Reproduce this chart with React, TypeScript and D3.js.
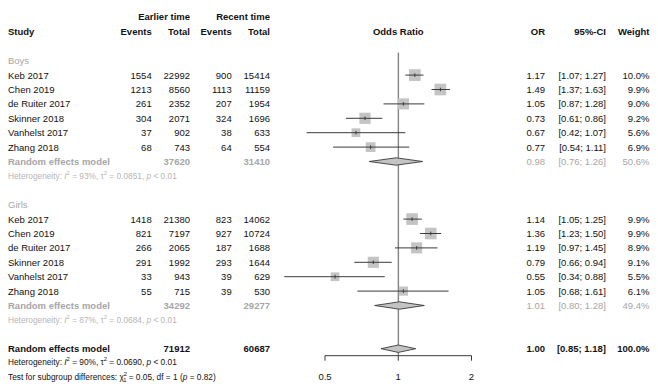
import React from "react";
import * as d3 from "d3";

const studies = ["Keb 2017", "Chen 2019", "de Ruiter 2017", "Skinner 2018", "Vanhelst 2017", "Zhang 2018"];

const boysEarlierEvents = [1554, 1213, 261, 304, 37, 68];
const boysEarlierTotal = [22992, 8560, 2352, 2071, 902, 743];
const boysRecentEvents = [900, 1113, 207, 324, 38, 64];
const boysRecentTotal = [15414, 11159, 1954, 1696, 633, 554];
const boysOR = [1.17, 1.49, 1.05, 0.73, 0.67, 0.77];
const boysLower = [1.07, 1.37, 0.87, 0.61, 0.42, 0.54];
const boysUpper = [1.27, 1.63, 1.28, 0.86, 1.07, 1.11];
const boysWeight = [10.0, 9.9, 9.0, 9.2, 5.6, 6.9];

const girlsEarlierEvents = [1418, 821, 266, 291, 33, 55];
const girlsEarlierTotal = [21380, 7197, 2065, 1992, 943, 715];
const girlsRecentEvents = [823, 927, 187, 293, 39, 39];
const girlsRecentTotal = [14062, 10724, 1688, 1644, 629, 530];
const girlsOR = [1.14, 1.36, 1.19, 0.79, 0.55, 1.05];
const girlsLower = [1.05, 1.23, 0.97, 0.66, 0.34, 0.68];
const girlsUpper = [1.25, 1.5, 1.45, 0.94, 0.88, 1.61];
const girlsWeight = [9.9, 9.9, 8.9, 9.1, 5.5, 6.1];

// subgroup / overall summaries: [OR, lower, upper, weight, earlierTotal, recentTotal]
const boysSummary = [0.98, 0.76, 1.26, 50.6, 37620, 31410];
const girlsSummary = [1.01, 0.8, 1.28, 49.4, 34292, 29277];
const overallSummary = [1.0, 0.85, 1.18, 100.0, 71912, 60687];

const boysHet = ["93%", "0.0851", "< 0.01"];
const girlsHet = ["87%", "0.0684", "< 0.01"];
const overallHet = ["90%", "0.0690", "< 0.01"];
const subgroupTest = ["0.05", "1", "0.82"];

const axisTicks = [0.5, 1, 2];
const axisTickLabels = ["0.5", "1", "2"];

const FONT = "'Liberation Sans', Arial, Helvetica, sans-serif";
const FS = 9.5;
const SMALL = 8.3;
const GREY = "#a6a6a6";
const LGREY = "#b5b5b5";
const BOX = "#c4c4c4";
const LINE = "#3a3a3a";

const rowY = (i: number) => 60.7 + i * 14.4;
const BL = 3.4;

const x = d3.scaleLog().domain([0.5, 2]).range([325, 471.5]);

const colX = { study: 8, ee: 151.7, et: 190, re: 231.7, rt: 270, or: 545, ci: 606, w: 649.5 };

const fmt2 = (v: number) => v.toFixed(2);
const fmtCI = (l: number, u: number) => `[${fmt2(l)}; ${fmt2(u)}]`;
const fmtW = (w: number) => `${w.toFixed(1)}%`;

function T(props: any) {
  const { children, ...rest } = props;
  return (
    <text fontFamily={FONT} fontSize={FS} fill="#111" {...rest}>
      {children}
    </text>
  );
}

function StudyRows({ start, ee, et, re, rt, or, lo, up, w }: any) {
  return (
    <g>
      {studies.map((s, i) => {
        const cy = rowY(start + i);
        const side = 11.7 * Math.sqrt(w[i] / 10);
        const cx = x(or[i]);
        return (
          <g key={s}>
            <T x={colX.study} y={cy + BL}>{s}</T>
            <T x={colX.ee} y={cy + BL} textAnchor="end">{ee[i]}</T>
            <T x={colX.et} y={cy + BL} textAnchor="end">{et[i]}</T>
            <T x={colX.re} y={cy + BL} textAnchor="end">{re[i]}</T>
            <T x={colX.rt} y={cy + BL} textAnchor="end">{rt[i]}</T>
            <T x={colX.or} y={cy + BL} textAnchor="end">{fmt2(or[i])}</T>
            <T x={colX.ci} y={cy + BL} textAnchor="end">{fmtCI(lo[i], up[i])}</T>
            <T x={colX.w} y={cy + BL} textAnchor="end">{fmtW(w[i])}</T>
            <rect x={cx - side / 2} y={cy - side / 2} width={side} height={side} fill={BOX} />
            <line x1={x(lo[i])} x2={x(up[i])} y1={cy} y2={cy} stroke={LINE} strokeWidth={1} />
            <line x1={cx} x2={cx} y1={cy - 1.8} y2={cy + 1.8} stroke={LINE} strokeWidth={1} />
          </g>
        );
      })}
    </g>
  );
}

function Diamond({ cy, s }: any) {
  const h = 3.7;
  const pts = [
    [x(s[1]), cy],
    [x(s[0]), cy - h],
    [x(s[2]), cy],
    [x(s[0]), cy + h],
  ];
  return <polygon points={pts.map((p) => p.join(",")).join(" ")} fill={BOX} stroke={LINE} strokeWidth={0.9} />;
}

function HetText({ y, het, fill, size }: any) {
  return (
    <text x={colX.study} y={y} fontFamily={FONT} fontSize={size} fill={fill}>
      Heterogeneity: <tspan fontStyle="italic">I</tspan>
      <tspan fontSize={size * 0.7} dy={-3.5}>2</tspan>
      <tspan dy={3.5}> = {het[0]}, τ</tspan>
      <tspan fontSize={size * 0.7} dy={-3.5}>2</tspan>
      <tspan dy={3.5}> = {het[1]}, </tspan>
      <tspan fontStyle="italic">p</tspan>
      <tspan> {het[2]}</tspan>
    </text>
  );
}

function SummaryRow({ row, s, color, bold }: any) {
  const cy = rowY(row);
  const fw = "bold";
  return (
    <g>
      <T x={colX.study} y={cy + BL} fill={color} fontWeight={fw}>Random effects model</T>
      <T x={colX.et} y={cy + BL} textAnchor="end" fill={color} fontWeight={fw}>{s[4]}</T>
      <T x={colX.rt} y={cy + BL} textAnchor="end" fill={color} fontWeight={fw}>{s[5]}</T>
      <T x={colX.or} y={cy + BL} textAnchor="end" fill={color} fontWeight={bold ? "bold" : "normal"}>{fmt2(s[0])}</T>
      <T x={colX.ci} y={cy + BL} textAnchor="end" fill={color} fontWeight={bold ? "bold" : "normal"}>{fmtCI(s[1], s[2])}</T>
      <T x={colX.w} y={cy + BL} textAnchor="end" fill={color} fontWeight={bold ? "bold" : "normal"}>{fmtW(s[3])}</T>
      <Diamond cy={cy} s={s} />
    </g>
  );
}

export default function App() {
  const axisY = 355.7;
  const x1 = x(1);
  return (
    <svg width={658} height={392} style={{ position: "absolute", left: 0, top: 0, background: "#fff" }}>
      <rect width={658} height={392} fill="#fff" />
      {/* headers */}
      <T x={colX.et} y={rowY(-3) + BL - 0.8} textAnchor="end" fontWeight="bold">Earlier time</T>
      <T x={colX.rt} y={rowY(-3) + BL - 0.8} textAnchor="end" fontWeight="bold">Recent time</T>
      <T x={colX.study} y={rowY(-2) + BL} fontWeight="bold">Study</T>
      <T x={colX.ee} y={rowY(-2) + BL} textAnchor="end" fontWeight="bold">Events</T>
      <T x={colX.et} y={rowY(-2) + BL} textAnchor="end" fontWeight="bold">Total</T>
      <T x={colX.re} y={rowY(-2) + BL} textAnchor="end" fontWeight="bold">Events</T>
      <T x={colX.rt} y={rowY(-2) + BL} textAnchor="end" fontWeight="bold">Total</T>
      <T x={x1} y={rowY(-2) + BL} textAnchor="middle" fontWeight="bold">Odds Ratio</T>
      <T x={colX.or} y={rowY(-2) + BL} textAnchor="end" fontWeight="bold">OR</T>
      <T x={colX.ci} y={rowY(-2) + BL} textAnchor="end" fontWeight="bold">95%-CI</T>
      <T x={colX.w} y={rowY(-2) + BL} textAnchor="end" fontWeight="bold">Weight</T>

      {/* reference line */}
      <line x1={x1} x2={x1} y1={52.7} y2={axisY} stroke="#555" strokeWidth={1} />
      <line x1={x1} x2={x1} y1={52.7} y2={axisY} stroke="#999" strokeWidth={0.6} strokeDasharray="1,1.5" transform="translate(0.6,0)" />

      {/* Boys */}
      <T x={colX.study} y={rowY(0) + BL} fill={GREY}>Boys</T>
      <StudyRows start={1} ee={boysEarlierEvents} et={boysEarlierTotal} re={boysRecentEvents} rt={boysRecentTotal}
        or={boysOR} lo={boysLower} up={boysUpper} w={boysWeight} />
      <SummaryRow row={7} s={boysSummary} color={GREY} />
      <HetText y={rowY(8) + 3} het={boysHet} fill={LGREY} size={SMALL} />

      {/* Girls */}
      <T x={colX.study} y={rowY(10) + BL} fill={GREY}>Girls</T>
      <StudyRows start={11} ee={girlsEarlierEvents} et={girlsEarlierTotal} re={girlsRecentEvents} rt={girlsRecentTotal}
        or={girlsOR} lo={girlsLower} up={girlsUpper} w={girlsWeight} />
      <SummaryRow row={17} s={girlsSummary} color={GREY} />
      <HetText y={rowY(18) + 3} het={girlsHet} fill={LGREY} size={SMALL} />

      {/* Overall */}
      <SummaryRow row={20} s={overallSummary} color="#111" bold />
      <HetText y={361.7 + 3} het={overallHet} fill="#111" size={SMALL} />
      <text x={colX.study} y={376.7 + 3} fontFamily={FONT} fontSize={SMALL} fill="#111">
        Test for subgroup differences: χ
        <tspan fontSize={SMALL * 0.7} dy={-3.5}>2</tspan>
        <tspan fontSize={SMALL * 0.7} dx={-3.9} dy={6}>1</tspan>
        <tspan dy={-2.5}> = {subgroupTest[0]}, df = {subgroupTest[1]} (</tspan>
        <tspan fontStyle="italic">p</tspan>
        <tspan> = {subgroupTest[2]})</tspan>
      </text>

      {/* axis */}
      <line x1={x(0.5)} x2={x(2)} y1={axisY} y2={axisY} stroke={LINE} strokeWidth={1} />
      {axisTicks.map((t, i) => (
        <g key={t}>
          <line x1={x(t)} x2={x(t)} y1={axisY} y2={axisY + 5} stroke={LINE} strokeWidth={1} />
          <T x={x(t)} y={380.2} textAnchor="middle">{axisTickLabels[i]}</T>
        </g>
      ))}
    </svg>
  );
}
